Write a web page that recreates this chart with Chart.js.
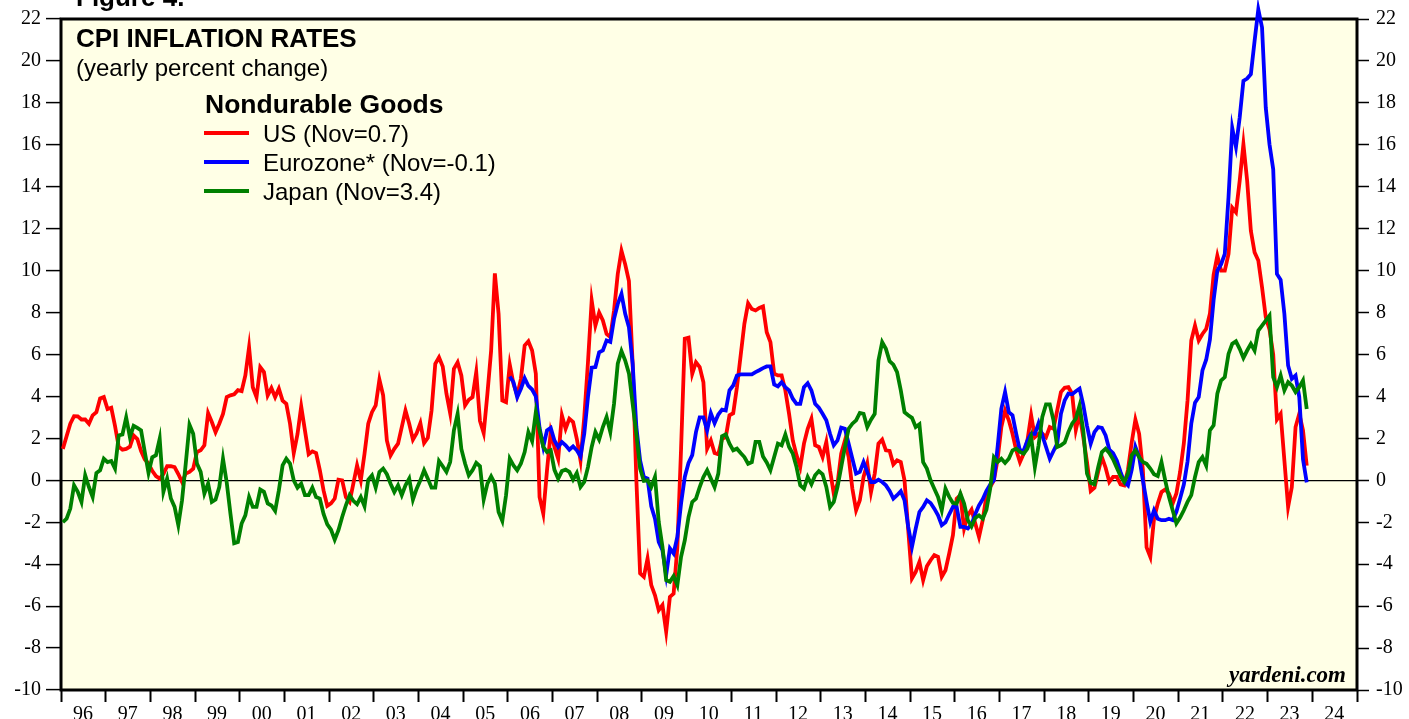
<!DOCTYPE html>
<html>
<head>
    <meta charset="UTF-8">
    <title>CPI Inflation Rates: Nondurable Goods</title>
    <script src="https://cdn.jsdelivr.net/npm/chart.js"></script>
    <style>
        html, body { margin: 0; padding: 0; background: #ffffff; }
        canvas { display: block; }
    </style>
</head>
<body>
    <canvas id="myChart" width="1409" height="719"></canvas>

    <script>
        // monthly yearly-percent-change readings, first value = Jan of the start year
        var usStartYear = 1996;
        var euroStartYear = 2006;
        var japanStartYear = 1996;

        var yearLabels = ['96', '97', '98', '99', '00', '01', '02', '03', '04', '05',
            '06', '07', '08', '09', '10', '11', '12', '13', '14', '15',
            '16', '17', '18', '19', '20', '21', '22', '23', '24'];

        var seriesLabels = ['US (Nov=0.7)', 'Eurozone* (Nov=-0.1)', 'Japan (Nov=3.4)'];
        var seriesColors = ['#ff0000', '#0000ff', '#008000'];

        var usValues = [
            1.5, 2.1, 2.7, 3.06, 3.05, 2.9, 2.9, 2.7, 3.1, 3.25, 3.9, 3.97,
            3.4, 3.46, 2.6, 1.6, 1.46, 1.5, 1.6, 2.14, 1.97, 1.4, 1.0, 0.8,
            0.45, 0.2, 0.08, 0.3, 0.67, 0.67, 0.63, 0.3, -0.08, 0.32, 0.4, 0.55,
            1.35, 1.43, 1.67, 3.2, 2.78, 2.3, 2.7, 3.17, 3.97, 4.05, 4.1, 4.3,
            4.25, 5.0, 6.35, 4.44, 3.97, 5.4, 5.16, 4.05, 4.4, 3.97, 4.37, 3.8,
            3.65, 2.7, 1.3, 2.2, 3.52, 2.38, 1.24, 1.38, 1.3, 0.48, -0.48, -1.22,
            -1.1, -0.87, 0.03, 0.0, -0.8, -1.03, -0.16, 0.71, 0.0, 1.27, 2.7, 3.25,
            3.57, 4.8, 4.05, 1.9, 1.19, 1.5, 1.75, 2.54, 3.33, 2.7, 1.94, 2.25,
            2.73, 1.78, 2.03, 3.33, 5.56, 5.87, 5.43, 4.13, 3.2, 5.32, 5.63, 5.0,
            3.57, 3.84, 3.97, 5.16, 2.83, 2.25, 4.13, 6.19, 9.87, 7.94, 3.81, 3.73,
            5.52, 4.6, 4.05, 4.84, 6.43, 6.63, 6.19, 5.08, -0.8, -1.59, 0.48, 2.3,
            1.59, 1.03, 3.1, 2.46, 2.94, 2.78, 1.98, 0.95, 3.0, 5.63, 8.57, 7.38,
            8.0, 7.62, 6.98, 6.83, 8.1, 9.84, 10.95, 10.3, 9.5, 5.56, 0.0, -4.44,
            -4.6, -3.73, -5.0, -5.48, -6.19, -5.95, -7.22, -5.56, -5.4, -3.2, 1.5, 6.75,
            6.8, 5.08, 5.63, 5.4, 4.68, 1.51, 1.9, 1.3, 1.24, 1.98, 2.06, 3.1,
            3.2, 4.44, 5.95, 7.46, 8.44, 8.17, 8.1, 8.22, 8.29, 7.06, 6.59, 5.08,
            5.0, 5.0, 4.29, 3.17, 1.9, 1.2, 0.63, 1.75, 2.46, 2.94, 1.67, 1.59,
            1.11, 1.83, 0.48, -0.63, -0.16, 1.27, 1.9, 1.11, -0.4, -1.43, -0.95, 0.16,
            0.8, -0.56, 0.32, 1.75, 1.94, 1.43, 1.4, 0.76, 0.95, 0.87, 0.0, -2.38,
            -4.68, -4.37, -3.89, -4.76, -4.1, -3.81, -3.57, -3.65, -4.6, -4.29, -3.49, -2.62,
            -0.87, -0.71, -2.3, -1.67, -1.4, -2.06, -2.7, -1.9, -0.71, -0.32, 0.0, 1.0,
            2.54, 3.33, 2.86, 2.22, 1.43, 0.87, 1.27, 1.9, 3.1, 2.06, 2.22, 2.22,
            2.06, 2.54, 2.46, 3.33, 4.21, 4.41, 4.44, 4.13, 2.4, 3.17, 2.06, 0.87,
            -0.51, -0.35, 0.4, 1.11, 0.6, -0.08, 0.16, 0.16, -0.19, -0.24, 0.5, 1.8,
            2.89, 2.22, 0.5, -3.2, -3.65, -1.83, -1.11, -0.56, -0.44, -0.63, -1.11, -0.63,
            0.4, 1.75, 3.81, 6.67, 7.38, 6.67, 6.98, 7.22, 7.94, 9.8, 10.71, 10.0,
            10.0, 10.79, 13.0, 12.78, 14.29, 16.03, 14.29, 11.9, 10.87, 10.48, 9.21, 7.78,
            7.2, 6.0, 2.9, 3.17, 0.95, -1.27, -0.32, 2.54, 3.17, 2.38, 0.7
        ];

        var euroValues = [
            4.95, 4.68, 3.97, 4.37, 4.87, 4.5, 4.33, 4.0, 2.5, 1.6, 2.38, 2.5,
            1.9, 1.59, 1.83, 1.67, 1.46, 1.62, 1.43, 1.14, 2.22, 3.97, 5.37, 5.4,
            6.1, 6.19, 6.67, 6.6, 7.7, 8.41, 8.89, 7.94, 7.3, 5.56, 2.54, 0.95,
            0.16, 0.08, -1.24, -1.83, -2.94, -3.33, -4.52, -3.25, -3.49, -2.7, -1.11, 0.16,
            0.83, 1.2, 2.3, 3.0, 3.0, 2.38, 3.2, 2.73, 3.14, 3.37, 3.33, 4.29,
            4.52, 5.0, 5.05, 5.05, 5.05, 5.05, 5.16, 5.25, 5.35, 5.43, 5.43, 4.57,
            4.48, 4.68, 4.44, 4.29, 3.89, 3.65, 3.65, 4.44, 4.63, 4.29, 3.65, 3.46,
            3.17, 2.86, 2.22, 1.67, 1.9, 2.51, 2.46, 1.75, 1.03, 0.32, 0.4, 0.87,
            0.4, -0.08, -0.08, 0.03, -0.08, -0.24, -0.51, -0.87, -0.71, -0.52, -0.95, -2.22,
            -3.17, -2.3, -1.51, -1.27, -0.95, -1.08, -1.35, -1.67, -2.14, -2.0, -1.62, -1.27,
            -1.27, -2.22, -2.22, -2.3, -2.1, -1.6, -1.2, -0.9, -0.5, -0.2, 0.0, 1.6,
            3.41, 4.21, 3.25, 3.1, 2.22, 1.4, 1.43, 1.9, 2.22, 2.22, 2.73, 2.14,
            1.59, 1.03, 1.4, 1.75, 3.17, 3.81, 4.13, 4.1, 4.25, 4.37, 3.6, 2.6,
            1.75, 2.3, 2.54, 2.5, 2.14, 1.46, 1.3, 0.95, 0.4, -0.08, -0.24, 0.5,
            1.59, 1.11, 0.0, -1.03, -1.98, -1.43, -1.83, -1.9, -1.9, -1.83, -1.9, -1.5,
            -0.87, -0.2, 0.9, 2.7, 3.7, 3.97, 5.24, 5.75, 6.7, 8.6, 10.0, 10.3,
            10.8, 13.5, 16.8, 15.9, 17.3, 19.05, 19.16, 19.37, 20.95, 22.46, 21.6, 17.78,
            16.03, 14.84, 9.84, 9.56, 7.94, 5.48, 4.84, 5.0, 3.97, 1.0, -0.1
        ];

        var japanValues = [
            -2.0, -1.83, -1.35, -0.24, -0.55, -1.03, 0.24, -0.32, -0.8, 0.35, 0.48, 1.03,
            0.87, 0.92, 0.56, 2.14, 2.19, 3.0, 2.06, 2.6, 2.5, 2.38, 1.35, 0.35,
            1.1, 1.2, 1.98, -0.55, 0.08, -0.87, -1.27, -2.14, -0.95, 0.8, 2.65, 2.22,
            0.8, 0.4, -0.63, -0.16, -1.03, -0.92, -0.32, 1.03, -0.1, -1.59, -3.0, -2.94,
            -2.06, -1.67, -0.8, -1.27, -1.27, -0.44, -0.55, -1.1, -1.2, -1.46, -0.48, 0.71,
            1.03, 0.8, 0.0, -0.35, -0.16, -0.71, -0.71, -0.35, -0.8, -0.87, -1.6, -2.1,
            -2.35, -2.83, -2.38, -1.75, -1.19, -0.71, -0.98, -1.14, -0.8, -1.24, 0.03, 0.24,
            -0.35, 0.4, 0.56, 0.29, -0.16, -0.56, -0.24, -0.71, -0.24, 0.08, -0.92, -0.4,
            0.0, 0.48, 0.08, -0.35, -0.35, 0.92, 0.67, 0.4, 0.87, 2.38, 3.17, 1.5,
            0.8, 0.24, 0.48, 0.83, 0.67, -0.92, -0.16, 0.19, -0.16, -1.51, -1.94, -0.71,
            1.03, 0.71, 0.48, 0.8, 1.35, 2.3, 1.87, 3.25, 2.38, 1.6, 1.35, 1.43,
            0.5, 0.08, 0.44, 0.51, 0.4, 0.03, 0.35, -0.32, -0.08, 0.63, 1.59, 2.3,
            1.94, 2.54, 3.02, 2.3, 3.65, 5.56, 6.16, 5.71, 5.1, 3.65, 2.2, 0.56,
            -0.03, 0.0, -0.32, 0.16, -1.98, -3.17, -4.76, -4.84, -4.57, -5.0, -3.65, -2.86,
            -1.75, -1.03, -0.87, -0.32, 0.16, 0.48, 0.08, -0.32, 0.32, 2.1, 2.19, 1.75,
            1.43, 1.51, 1.3, 1.11, 0.79, 0.87, 1.83, 1.83, 1.14, 0.85, 0.48, 1.11,
            1.75, 1.67, 2.19, 1.59, 1.27, 0.63, -0.24, -0.4, 0.16, -0.19, 0.24, 0.44,
            0.29, -0.32, -1.27, -1.03, -0.32, 0.63, 1.59, 2.46, 2.7, 2.86, 3.21, 3.17,
            2.54, 2.89, 3.17, 5.71, 6.59, 6.27, 5.68, 5.52, 5.16, 4.29, 3.25, 3.1,
            2.98, 2.54, 2.67, 0.87, 0.56, 0.0, -0.4, -0.79, -1.43, -0.4, -0.79, -1.08,
            -1.11, -0.63, -1.11, -1.9, -2.2, -1.8, -1.67, -1.83, -1.4, -0.4, 1.1, 0.87,
            1.03, 0.83, 1.03, 1.43, 1.51, 1.35, 1.27, 1.51, 2.06, 0.63, 1.67, 3.02,
            3.62, 3.62, 2.86, 1.59, 1.67, 1.8, 2.3, 2.7, 2.94, 3.57, 2.38, 0.32,
            -0.13, -0.19, 0.63, 1.35, 1.51, 1.3, 1.0, 0.6, 0.2, -0.08, 0.32, 1.19,
            1.43, 1.1, 0.87, 0.79, 0.56, 0.29, 0.2, 0.87, 0.0, -0.79, -1.43, -2.06,
            -1.78, -1.43, -1.03, -0.71, 0.16, 0.87, 1.11, 0.7, 2.38, 2.62, 4.13, 4.76,
            4.92, 6.03, 6.51, 6.63, 6.27, 5.84, 6.19, 6.51, 6.19, 7.14, 7.38, 7.62,
            7.86, 4.92, 4.44, 5.0, 4.29, 4.68, 4.52, 4.21, 4.44, 4.76, 3.4
        ];

        // monthly values -> {x: fractional year (mid month), y}
        function toPoints(values, startYear) {
            return values.map(function (v, i) {
                return { x: startYear + (i + 0.5) / 12, y: v };
            });
        }

        // background, frame and the texts inside the plot
        var decorations = {
            id: 'decorations',
            beforeDraw: function (chart) {
                var a = chart.chartArea, ctx = chart.ctx;
                ctx.save();
                ctx.fillStyle = '#ffffe6';
                ctx.fillRect(a.left, a.top, a.right - a.left, a.bottom - a.top);
                ctx.restore();
            },
            beforeDatasetsDraw: function (chart) {
                var a = chart.chartArea, ctx = chart.ctx;
                ctx.save();
                ctx.strokeStyle = '#000';
                ctx.lineWidth = 3;
                ctx.strokeRect(a.left, a.top, a.right - a.left, a.bottom - a.top);
                ctx.restore();
            },
            afterDraw: function (chart) {
                var ctx = chart.ctx;
                ctx.save();
                ctx.fillStyle = '#000';
                ctx.textBaseline = 'alphabetic';
                ctx.textAlign = 'left';

                ctx.font = 'bold 26px "Liberation Sans", Arial, sans-serif';
                ctx.fillText('Figure 4.', 76, 6);
                ctx.fillText('CPI INFLATION RATES', 76, 47);
                ctx.font = '24px "Liberation Sans", Arial, sans-serif';
                ctx.fillText('(yearly percent change)', 76, 76);

                ctx.font = 'bold 26.5px "Liberation Sans", Arial, sans-serif';
                ctx.fillText('Nondurable Goods', 205, 113);

                ctx.font = '24px "Liberation Sans", Arial, sans-serif';
                for (var k = 0; k < seriesLabels.length; k++) {
                    var y = 133 + k * 29;
                    ctx.strokeStyle = seriesColors[k];
                    ctx.lineWidth = 4;
                    ctx.beginPath();
                    ctx.moveTo(204, y);
                    ctx.lineTo(249, y);
                    ctx.stroke();
                    ctx.fillText(seriesLabels[k], 263, y + 8.5);
                }

                ctx.font = 'bold italic 23px "Liberation Serif", "Times New Roman", serif';
                ctx.textAlign = 'right';
                ctx.fillText('yardeni.com', 1346, 682);
                ctx.restore();
            }
        };

        var tickFont = { family: '"Liberation Serif", "Times New Roman", serif', size: 20 };

        var ctx = document.getElementById("myChart").getContext("2d");
        var myChart = new Chart(ctx, {
            type: 'line',
            data: {
                datasets: [{
                    label: seriesLabels[0],
                    data: toPoints(usValues, usStartYear),
                    borderColor: seriesColors[0],
                    order: 3
                }, {
                    label: seriesLabels[1],
                    data: toPoints(euroValues, euroStartYear),
                    borderColor: seriesColors[1],
                    order: 2
                }, {
                    label: seriesLabels[2],
                    data: toPoints(japanValues, japanStartYear),
                    borderColor: seriesColors[2],
                    order: 1
                }]
            },
            options: {
                responsive: false,
                animation: false,
                events: [],
                layout: { padding: { top: 18, left: 0, right: 0, bottom: 0 } },
                elements: {
                    line: { borderWidth: 3.8, tension: 0, fill: false },
                    point: { radius: 0 }
                },
                datasets: { line: { clip: false } },
                plugins: {
                    legend: { display: false },
                    tooltip: { enabled: false },
                    title: { display: false }
                },
                scales: {
                    x: {
                        type: 'linear',
                        min: 1996,
                        max: 2025,
                        afterFit: function (scale) { scale.height = 29; },
                        border: { display: false },
                        grid: {
                            drawOnChartArea: false,
                            drawTicks: true,
                            tickLength: 12,
                            tickColor: '#000',
                            tickWidth: 2
                        },
                        ticks: {
                            stepSize: 1,
                            autoSkip: false,
                            maxRotation: 0,
                            labelOffset: 22,
                            padding: 1,
                            color: '#000',
                            font: tickFont,
                            callback: function (value, index) {
                                return yearLabels[index] || '';
                            }
                        }
                    },
                    y: {
                        position: 'left',
                        min: -10,
                        max: 22,
                        afterFit: function (scale) { scale.width = 61; },
                        border: { display: false },
                        grid: {
                            color: function (c) {
                                return c.tick && c.tick.value === 0 ? '#000' : 'rgba(0,0,0,0)';
                            },
                            lineWidth: 1.2,
                            tickColor: '#000',
                            tickLength: 15,
                            tickWidth: 1.5
                        },
                        ticks: { stepSize: 2, padding: 5, color: '#000', font: tickFont }
                    },
                    y2: {
                        position: 'right',
                        min: -10,
                        max: 22,
                        afterFit: function (scale) { scale.width = 52; },
                        border: { display: false },
                        grid: {
                            drawOnChartArea: false,
                            tickColor: '#000',
                            tickLength: 12,
                            tickWidth: 1.5
                        },
                        ticks: { stepSize: 2, padding: 7, color: '#000', font: tickFont }
                    }
                }
            },
            plugins: [decorations]
        });
    </script>
</body>
</html>
